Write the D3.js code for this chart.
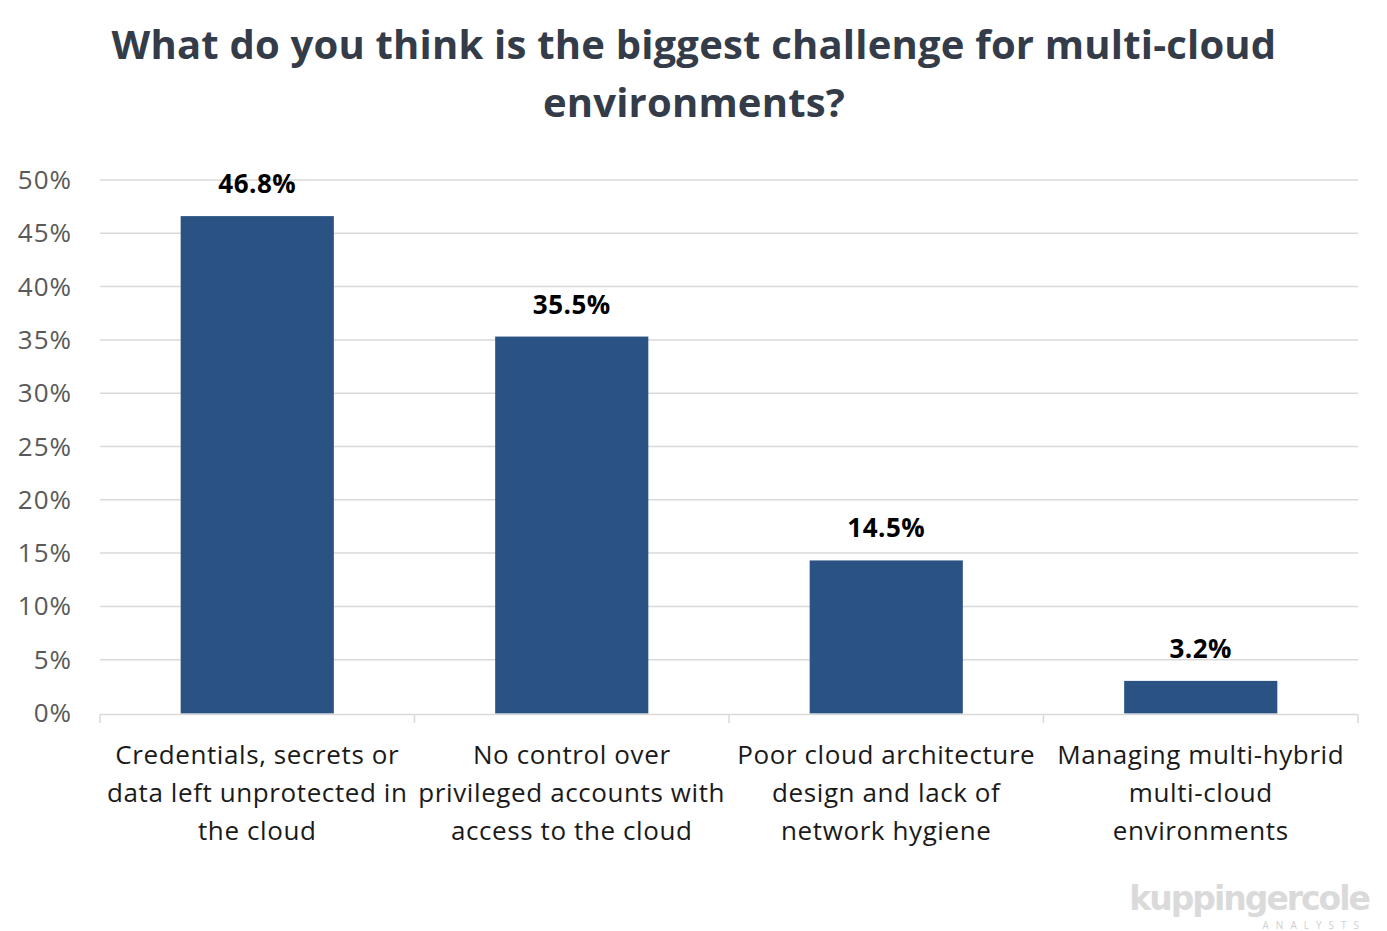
<!DOCTYPE html>
<html><head><meta charset="utf-8">
<script src="https://cdn.jsdelivr.net/npm/d3@7"></script>
<style>
html,body{margin:0;padding:0;background:#fff;}
svg{display:block;font-family:"Open Sans", sans-serif;}
</style></head>
<body>
<svg id="chart" width="1387" height="931"></svg>
<script>
const categories = [
  ["Credentials, secrets or","data left unprotected in","the cloud"],
  ["No control over","privileged accounts with","access to the cloud"],
  ["Poor cloud architecture","design and lack of","network hygiene"],
  ["Managing multi-hybrid","multi-cloud","environments"]
];
const values = [46.8, 35.5, 14.5, 3.2];
const yTicks = [0,5,10,15,20,25,30,35,40,45,50];
const titleLines = ["What do you think is the biggest challenge for multi-cloud","environments?"];

(function(){
const svg = d3.select("#chart");
const pL = 100, pR = 1358, pT = 180, pB = 713;
const x = d3.scaleBand().domain(d3.range(categories.length)).range([pL, pR]).paddingInner(0.513).paddingOuter(0.2565);
const xb = d3.scaleBand().domain(d3.range(categories.length)).range([pL, pR]);
const y = d3.scaleLinear().domain([0,50]).range([pB, pT]);

svg.append("g").selectAll("text").data(titleLines).join("text")
  .attr("x", 694).attr("y", (d,i)=>59+i*58)
  .attr("text-anchor","middle").attr("font-size",40).attr("font-weight","bold")
  .attr("letter-spacing",0.2)
  .attr("fill","#333c48").text(d=>d);

svg.append("g").selectAll("line").data(yTicks.filter(t=>t>0)).join("line")
  .attr("x1",pL).attr("x2",pR).attr("y1",d=>y(d)).attr("y2",d=>y(d))
  .attr("stroke","#d9d9d9").attr("stroke-width",1.5);

svg.append("g").selectAll("text").data(yTicks).join("text")
  .attr("x",72).attr("y",d=>y(d)+9).attr("text-anchor","end")
  .attr("font-size",26).attr("letter-spacing",1).attr("fill","#595959").text(d=>d+"%");

svg.append("g").selectAll("rect").data(values).join("rect")
  .attr("x",(d,i)=>x(i)).attr("width",x.bandwidth())
  .attr("y",d=>y(d)+2).attr("height",d=>y(0)-y(d)-1.5)
  .attr("fill","#2a5282");

const ax = svg.append("g");
ax.append("line").attr("x1",pL).attr("x2",pR).attr("y1",pB+1.5).attr("y2",pB+1.5)
  .attr("stroke","#d9d9d9").attr("stroke-width",1.5);
ax.selectAll("line.t").data(d3.range(categories.length+1)).join("line").attr("class","t")
  .attr("x1",i=>i<categories.length?xb(i):pR).attr("x2",i=>i<categories.length?xb(i):pR)
  .attr("y1",pB+1.5).attr("y2",pB+10)
  .attr("stroke","#d9d9d9").attr("stroke-width",1.5);

svg.append("g").selectAll("text").data(values).join("text")
  .attr("x",(d,i)=>x(i)+x.bandwidth()/2).attr("y",d=>y(d)-21)
  .attr("text-anchor","middle").attr("font-size",26).attr("font-weight","bold")
  .attr("letter-spacing",0.5)
  .attr("fill","#000").text(d=>d.toFixed(1)+"%");

const cg = svg.append("g").selectAll("text").data(categories).join("text")
  .attr("text-anchor","middle").attr("font-size",26).attr("letter-spacing",0.6).attr("fill","#1a1a1a");
cg.each(function(lines,i){
  d3.select(this).selectAll("tspan").data(lines).join("tspan")
    .attr("x",xb(i)+xb.bandwidth()/2).attr("y",(d,j)=>764+j*38).text(d=>d);
});

const logo = svg.append("g");
logo.append("text").attr("x",1369).attr("y",910).attr("text-anchor","end")
  .attr("font-size",33).attr("font-weight","bold").attr("fill","#dadada")
  .attr("font-family","Verdana, 'DejaVu Sans', sans-serif").attr("letter-spacing",-2).text("kuppingercole");
logo.append("text").attr("x",1366).attr("y",929).attr("text-anchor","end")
  .attr("font-size",10).attr("fill","#d0d0d0").attr("letter-spacing",7).text("ANALYSTS");
})();
</script>
</body></html>
